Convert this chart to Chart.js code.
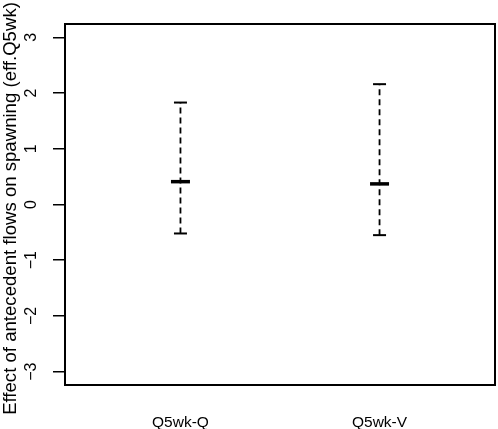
<!DOCTYPE html>
<html>
<head>
<meta charset="utf-8">
<script src="https://cdn.jsdelivr.net/npm/chart.js@4"></script>
<style>
  html, body { margin: 0; padding: 0; background: #fff; }
  #wrap { width: 498px; height: 429px; }
</style>
</head>
<body>
<div id="wrap"><canvas id="effChart" width="498" height="429"></canvas></div>
<script>
const categories = ["Q5wk-Q", "Q5wk-V"];
const estimates = [0.41, 0.37];
const lowerBounds = [-0.52, -0.55];
const upperBounds = [1.83, 2.16];
const yTicks = [-3, -2, -1, 0, 1, 2, 3];
const yTickLabels = ["\u22123", "\u22122", "\u22121", "0", "1", "2", "3"];
const yTitle = "Effect of antecedent flows on spawning (eff.Q5wk)";

const FONT = '"Liberation Sans", Arial, sans-serif';

// box round the plot, upright y tick labels and the y title (R style)
const boxAndLabels = {
  id: "boxAndLabels",
  afterDraw(chart) {
    const { ctx, chartArea: a, scales } = chart;
    ctx.save();
    ctx.strokeStyle = "#000";
    ctx.lineWidth = 2;
    ctx.strokeRect(a.left, a.top, a.right - a.left, a.bottom - a.top);
    ctx.fillStyle = "#000";
    ctx.textAlign = "center";
    ctx.textBaseline = "middle";
    ctx.font = "16px " + FONT;
    yTicks.forEach(function (v, i) {
      const y = scales.y.getPixelForValue(v);
      ctx.save();
      ctx.translate(32, y);
      ctx.rotate(-Math.PI / 2);
      ctx.fillText(yTickLabels[i], 0, 0);
      ctx.restore();
    });
    ctx.font = "18.6px " + FONT;
    ctx.translate(10.5, 208.5);
    ctx.rotate(-Math.PI / 2);
    ctx.fillText(yTitle, 0, 0);
    ctx.restore();
  },
};

document.addEventListener("DOMContentLoaded", function () {
  const datasets = [];

  categories.forEach(function (c, i) {
    datasets.push({
      type: "line",
      data: [
        { x: i + 1, y: lowerBounds[i] },
        { x: i + 1, y: upperBounds[i] },
      ],
      borderColor: "#000",
      borderWidth: 1.8,
      borderDash: [6, 4],
      pointRadius: 0,
      fill: false,
    });
  });

  datasets.push({
    type: "scatter",
    data: categories
      .map(function (c, i) { return { x: i + 1, y: lowerBounds[i] }; })
      .concat(categories.map(function (c, i) { return { x: i + 1, y: upperBounds[i] }; })),
    pointStyle: "line",
    pointRadius: 6.5,
    borderColor: "#000",
    borderWidth: 2,
  });

  datasets.push({
    type: "scatter",
    data: categories.map(function (c, i) { return { x: i + 1, y: estimates[i] }; }),
    pointStyle: "line",
    pointRadius: 9.5,
    borderColor: "#000",
    borderWidth: 3.5,
  });

  const ctx = document.getElementById("effChart").getContext("2d");
  new Chart(ctx, {
    data: { datasets: datasets },
    options: {
      responsive: false,
      animation: false,
      layout: { autoPadding: false, padding: { top: 24, right: 3, left: 0, bottom: 0 } },
      plugins: {
        legend: { display: false },
        tooltip: { enabled: false },
      },
      scales: {
        x: {
          type: "linear",
          min: 0.42,
          max: 2.58,
          afterBuildTicks: function (scale) {
            scale.ticks = categories.map(function (c, i) { return { value: i + 1 }; });
          },
          afterFit: function (scale) {
            scale.height = 44;
            scale.paddingLeft = 0;
            scale.paddingRight = 0;
          },
          grid: { display: false, drawTicks: false },
          border: { display: false },
          ticks: {
            padding: 28,
            color: "#000",
            maxRotation: 0,
            font: { family: FONT, size: 15.5 },
            callback: function (value) { return categories[value - 1]; },
          },
        },
        y: {
          min: -3.24,
          max: 3.24,
          afterBuildTicks: function (scale) {
            scale.ticks = yTicks.map(function (v) { return { value: v }; });
          },
          afterFit: function (scale) {
            scale.width = 65;
            scale.paddingTop = 0;
            scale.paddingBottom = 0;
          },
          grid: {
            drawOnChartArea: false,
            drawTicks: true,
            tickLength: 12,
            color: "#000",
            lineWidth: 1.5,
          },
          border: { display: false },
          ticks: {
            callback: function () { return ""; },
          },
        },
      },
    },
    plugins: [boxAndLabels],
  });
});
</script>
</body>
</html>
